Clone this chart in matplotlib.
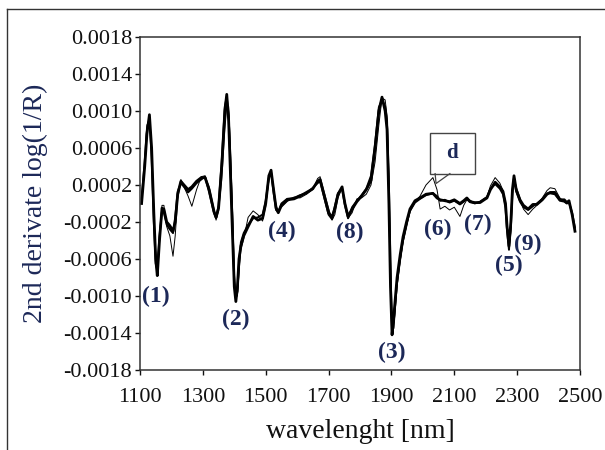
import matplotlib
matplotlib.use('Agg')
import matplotlib.pyplot as plt
from matplotlib.lines import Line2D
from matplotlib.patches import Rectangle

# wavelength [nm]
wl = [1105, 1115, 1122, 1130, 1137, 1144, 1150, 1155, 1162, 1170,
	1176, 1185, 1195, 1205, 1212, 1220, 1230, 1240, 1253, 1265,
	1280, 1295, 1307, 1320, 1335, 1342, 1350, 1360, 1370, 1376,
	1382, 1388, 1395, 1400, 1405, 1410, 1415, 1421, 1430, 1444,
	1460, 1475, 1490, 1500, 1510, 1517, 1525, 1533, 1540, 1550,
	1568, 1590, 1609, 1630, 1650, 1665, 1673, 1685, 1700, 1711,
	1720, 1730, 1743, 1752, 1762, 1775, 1790, 1805, 1820, 1835,
	1848, 1860, 1870, 1880, 1886, 1892, 1897, 1902, 1908, 1918,
	1928, 1937, 1948, 1959, 1975, 1991, 2010, 2032, 2045, 2055,
	2070, 2085, 2100, 2118, 2130, 2140, 2150, 2165, 2182, 2195,
	2204, 2215, 2230, 2245, 2255, 2263, 2268, 2274, 2280, 2285,
	2290, 2297, 2309, 2320, 2335, 2350, 2363, 2380, 2395, 2405,
	2420, 2436, 2450, 2458, 2465, 2475, 2484]

# second derivative values, in units of 1e-4
spec_a = [0, 4, 7.5, 9.6, 6, -1, -6, -7.8, -4, -0.5,
	-0.6, -2, -2.4, -3, -2, 1, 2.4, 2, 1.5, 1.8,
	2.4, 2.8, 2.8, 1.5, -0.8, -1.5, -0.5, 4, 10, 11.8,
	9, 3, -4, -9, -10.6, -9, -6, -4.6, -3.5, -2.5,
	-1.4, -1.8, -1.6, 0, 3, 3.6, 1.5, -0.5, -1, -0.2,
	0.4, 0.5, 0.8, 1.2, 1.6, 2.4, 2.6, 1, -1, -1.5,
	-0.5, 1, 1.8, 0, -1.4, -0.6, 0.2, 0.8, 1.5, 2.5,
	6, 10, 11.5, 10, 8, 0, -9, -14.2, -12, -8,
	-5.5, -3.6, -2, -0.6, 0.3, 0.6, 1, 1.1, 0.6, 0.4,
	0.3, 0.2, 0.4, 0, 0.3, 0.6, 0.2, 0.1, 0.1, 0.4,
	0.6, 1.5, 2.3, 1.8, 1.3, 0, -2.5, -4.6, -2, 1.5,
	3, 1.5, 0.4, -0.2, -0.6, -0.1, -0.1, 0.4, 1, 1.2,
	1.2, 0.4, 0.4, 0.1, 0.3, -1.2, -3]

spec_b = [0.5, 4.5, 8, 9.2, 5, -2, -6.5, -7.2, -3.5, -0.8,
	-1, -2.3, -2.8, -3.2, -1.5, 1.3, 2.2, 1.8, 1.2, 1.6,
	2.2, 2.6, 2.9, 1.2, -1, -1.6, -0.2, 4.5, 10.5, 11.5,
	9.5, 4, -3, -8.5, -10.2, -9.5, -6.5, -4.2, -3.2, -2.3,
	-1.6, -1.5, -1.2, 0.3, 2.8, 3.4, 1.2, -0.7, -0.9, 0,
	0.5, 0.6, 0.9, 1.1, 1.7, 2.2, 2.4, 0.8, -1.2, -1.7,
	-0.3, 1.1, 1.6, -0.2, -1.6, -0.4, 0.3, 0.9, 1.6, 3,
	6.5, 10.4, 11.2, 10.5, 9, 2, -7, -13.6, -12.5, -8.5,
	-6, -4, -2.2, -0.8, 0.1, 0.5, 0.9, 1.1, 0.8, 0.3,
	0.4, 0.1, 0.3, -0.1, 0.2, 0.5, 0.3, 0, 0.2, 0.5,
	0.7, 1.6, 2.1, 1.6, 1.0, -0.5, -3, -5, -2.5, 1.2,
	2.8, 1.3, 0.2, -0.4, -0.7, -0.3, 0, 0.5, 1.1, 1.1,
	1.0, 0.3, 0.2, 0, 0.1, -1, -2.6]

spec_c = [0.3, 4.2, 8.5, 9, 5.5, -1.5, -5.5, -7, -3.5, -0.2,
	-0.2, -2.5, -3.5, -5.7, -3.5, 0.5, 2.6, 1.8, 0.8, -0.3,
	1.5, 2.9, 3, 1.8, -0.5, -1.8, -0.8, 2.5, 8, 10.5,
	10.5, 6, -1, -7.5, -9.8, -10, -7.5, -5, -3.8, -1.5,
	-0.8, -1.2, -1.9, -0.3, 2.5, 3.3, 1.8, -0.2, -0.8, -0.4,
	0.2, 0.7, 0.6, 1.0, 1.5, 2.7, 2.9, 1.4, -0.5, -1.8,
	-1.2, 0.6, 1.7, 0.3, -1.6, -1.0, 0.5, 0.6, 1.0, 2,
	4.5, 8.5, 11.4, 11.2, 9.5, 3, -6, -13, -13.5, -9,
	-6.2, -4.2, -2.6, -0.9, 0.2, 0.8, 2, 2.8, 1.5, -0.6,
	-0.3, -0.7, -0.4, -1.4, -0.2, 0.4, 0.1, 0.0, 0.2, 0.5,
	0.7, 1.9, 2.8, 2.2, 1.4, 0.2, -2.2, -5.0, -3, 1,
	2.8, 1.8, 0.6, -0.6, -1.2, -0.6, -0.2, 0.6, 1.4, 1.7,
	1.6, 0.6, 0.2, 0.0, 0.2, -1.0, -2.8]

# band labels: text, x [nm], y
band_labels = ['(1)', '(2)', '(4)', '(8)', '(3)', '(6)', '(7)', '(5)', '(9)']
band_x = [1151, 1405, 1552, 1768, 1902, 2048, 2175, 2274, 2335]
band_y = [-0.00101, -0.00125, -0.00030, -0.00031, -0.00161, -0.00028, -0.00023, -0.00067, -0.00044]

xticks = [1100, 1300, 1500, 1700, 1900, 2100, 2300, 2500]
yticks = [-0.0018, -0.0014, -0.0010, -0.0006, -0.0002, 0.0002, 0.0006, 0.0010, 0.0014, 0.0018]

plt.rcParams['font.family'] = ['Liberation Serif', 'DejaVu Serif']
navy = '#1c2858'

fig = plt.figure(figsize=(6.05, 4.5), dpi=100)
ax = fig.add_axes([140/605, 1 - 370/450, 440/605, 333/450])

scale = 1e-4
ax.plot(wl, [v*scale for v in spec_a], color='black', lw=2.0, solid_joinstyle='round')
ax.plot(wl, [v*scale for v in spec_b], color='black', lw=1.4, solid_joinstyle='round')
ax.plot(wl, [v*scale for v in spec_c], color='black', lw=0.7)

for t, x, y in zip(band_labels, band_x, band_y):
	ax.text(x, y, t, ha='center', va='center', fontsize=17, fontweight='bold', color=navy)

# callout box "d"
ax.add_patch(Rectangle((2023, 0.000323), 143, 0.000442, fill=False, ec='#444444', lw=1.0, zorder=5))
ax.text(2094, 0.00055, 'd', ha='center', va='center', fontsize=15, fontweight='bold', color=navy)
ax.plot([2039, 2042, 2086], [0.000323, 0.000216, 0.000323], color='#444444', lw=0.9)

ax.set_xlim(1100, 2500)
ax.set_ylim(-0.0018, 0.0018)
ax.set_xticks(xticks)
ax.set_xticklabels([str(v) for v in xticks])
ax.set_yticks(yticks)
ax.set_yticklabels([f'{v:.4f}' for v in yticks])
ax.tick_params(direction='out', length=3.6, width=1, labelsize=16, colors='#111111')
ax.tick_params(axis='y', pad=2)
ax.tick_params(axis='x', pad=9)
for s in ax.spines.values():
	s.set_color('#333333')
	s.set_linewidth(1.1)

ax.set_xlabel('wavelenght [nm]', fontsize=20, color='#111111', labelpad=9)
ax.set_ylabel('2nd derivate log(1/R)', fontsize=20, color=navy, labelpad=11)

# outer frame (left and top only)
fig.add_artist(Line2D([7/605, 7/605], [0, 1 - 9/450], color='#333333', lw=1.0))
fig.add_artist(Line2D([7/605, 1], [1 - 9/450, 1 - 9/450], color='#333333', lw=1.0))

fig.savefig('out.png', dpi=100)
